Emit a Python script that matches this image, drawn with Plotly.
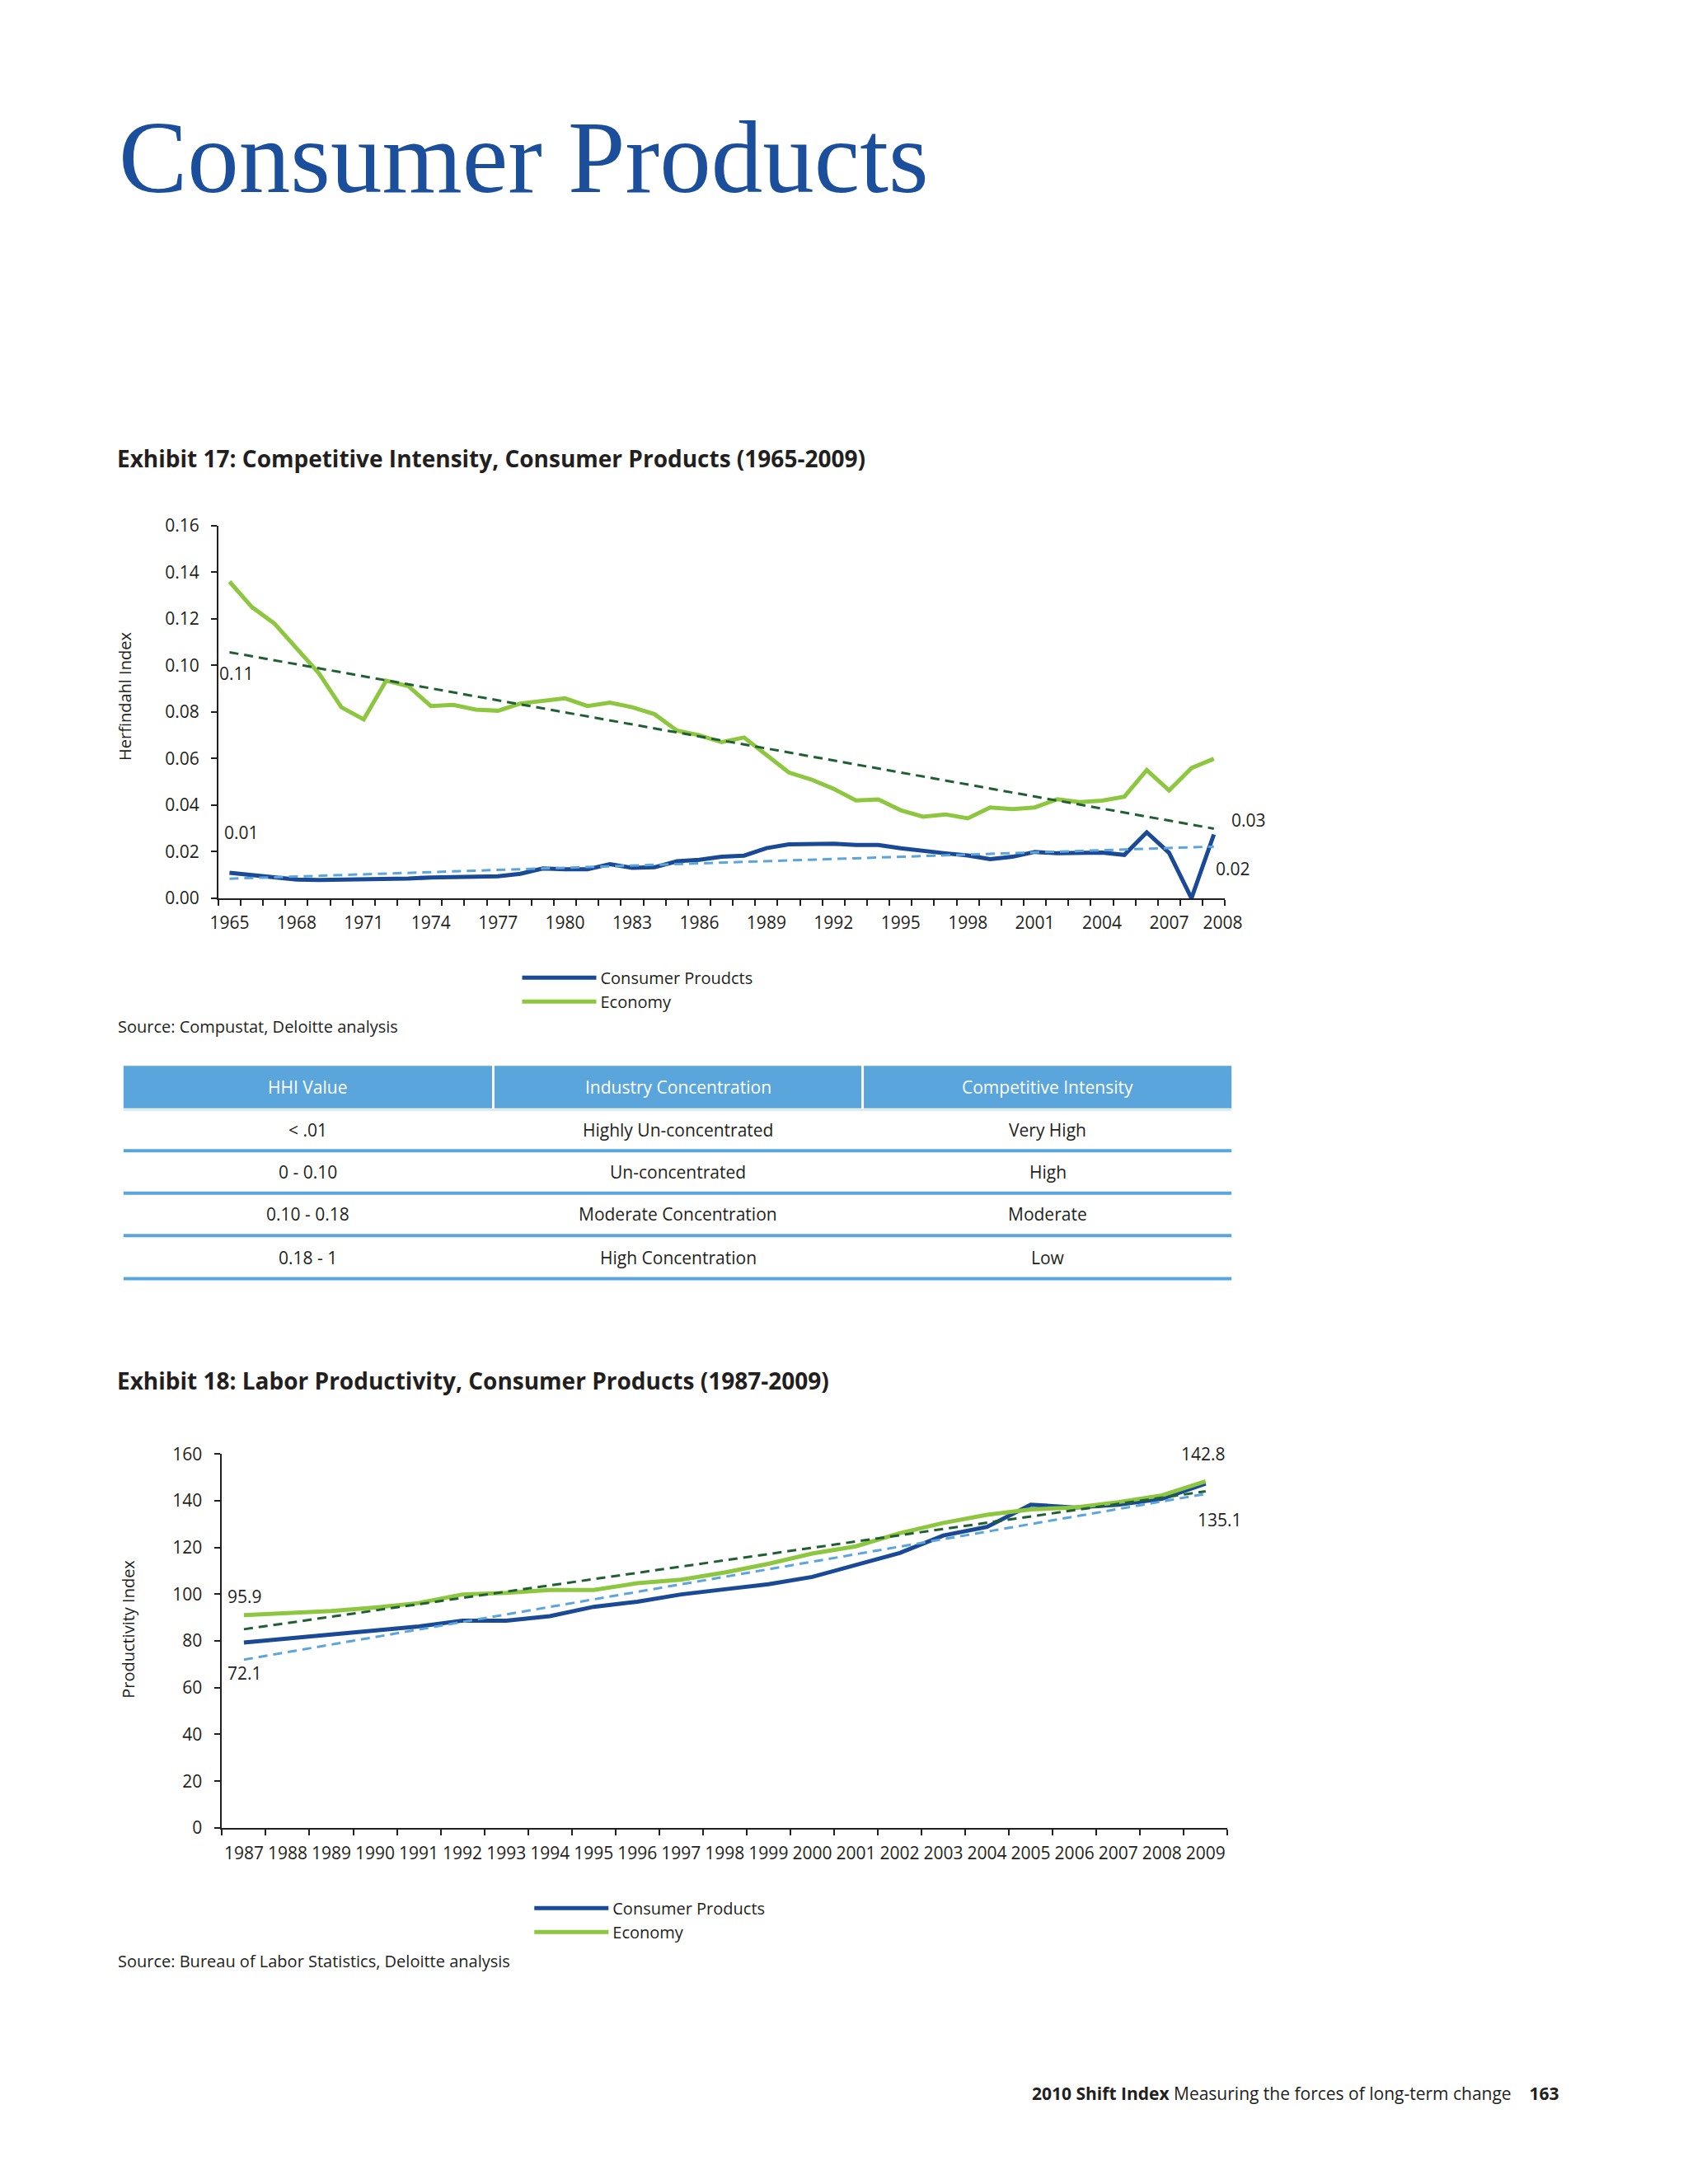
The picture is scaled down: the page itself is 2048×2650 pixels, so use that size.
import plotly.graph_objects as go

W, H = 2048, 2650
def px(x): return x / W
def py(y): return 1 - y / H

FONT = "Open Sans"
TXT = "#231F20"
NAVY = "#1A4A96"
GREEN = "#8DC63F"
DKGREEN = "#1F5F33"
LTBLUE = "#5BA4DC"
HDR = "#5AA5DC"

# ---------------- Exhibit 17 data ----------------
years_hhi = list(range(1965, 2010))
cp_hhi = [0.0109, 0.0100, 0.0091, 0.0080, 0.0078, 0.0079, 0.0081, 0.0080, 0.0085, 0.0089,
          0.0090, 0.0090, 0.0094, 0.0105, 0.0128, 0.0124, 0.0124, 0.0146, 0.0131, 0.0133,
          0.0159, 0.0165, 0.0178, 0.0183, 0.0215, 0.0231, 0.0232, 0.0234, 0.0229, 0.0229,
          0.0215, 0.0203, 0.0193, 0.0184, 0.0168, 0.0178, 0.0199, 0.0193, 0.0195, 0.0196,
          0.0186, 0.0283, 0.0195, 0.0000, 0.0274]
econ_hhi = [0.1359, 0.1250, 0.1180, 0.1070, 0.0965, 0.0820, 0.0768, 0.0934, 0.0910, 0.0825,
            0.0830, 0.0810, 0.0805, 0.0836, 0.0848, 0.0858, 0.0825, 0.0840, 0.0820, 0.0790,
            0.0720, 0.0700, 0.0670, 0.0690, 0.0615, 0.0540, 0.0510, 0.0470, 0.0420, 0.0424,
            0.0378, 0.0350, 0.0360, 0.0343, 0.0390, 0.0383, 0.0390, 0.0425, 0.0413, 0.0419,
            0.0436, 0.0550, 0.0463, 0.0559, 0.0599]
trend_years_hhi = [1965, 2009]
econ_hhi_trend = [0.1056, 0.0299]
cp_hhi_trend = [0.0084, 0.0222]
hhi_tickyears = list(range(1965, 2008, 3))
hhi_ticklabels = [str(y) for y in hhi_tickyears] + ["2008"]

# ---------------- Exhibit 18 data ----------------
years_prod = list(range(1987, 2010))
cp_prod = [79.3, 81.0, 82.5, 84.4, 86.2, 88.7, 88.7, 90.6, 94.6, 96.8, 99.9, 102.1,
           104.3, 107.4, 112.4, 117.6, 125.1, 128.8, 138.3, 137.1, 138.3, 140.8, 147.3]
econ_prod = [91.0, 91.8, 92.8, 94.3, 96.2, 99.9, 100.6, 101.8, 101.8, 104.7, 106.2, 109.3,
             113.0, 117.4, 120.5, 126.1, 130.5, 134.0, 136.3, 137.1, 139.4, 142.3, 148.3]
trend_years_prod = [1987, 2009]
econ_prod_trend = [85.0, 144.0]
cp_prod_trend = [72.0, 142.9]

# ---------------- Table data ----------------
table_header = ["HHI Value", "Industry Concentration", "Competitive Intensity"]
col_hhi = ["< .01", "0 - 0.10", "0.10 - 0.18", "0.18 - 1"]
col_conc = ["Highly Un-concentrated", "Un-concentrated", "Moderate Concentration", "High Concentration"]
col_int = ["Very High", "High", "Moderate", "Low"]

fig = go.Figure()

# Exhibit 17 traces
fig.add_trace(go.Scatter(x=years_hhi, y=cp_hhi, mode="lines", name="Consumer Proudcts",
                         line=dict(color=NAVY, width=5), xaxis="x", yaxis="y", legend="legend"))
fig.add_trace(go.Scatter(x=years_hhi, y=econ_hhi, mode="lines", name="Economy",
                         line=dict(color=GREEN, width=5), xaxis="x", yaxis="y", legend="legend"))
fig.add_trace(go.Scatter(x=trend_years_hhi, y=econ_hhi_trend, mode="lines", showlegend=False,
                         line=dict(color=DKGREEN, width=3, dash="11px,7px"), xaxis="x", yaxis="y"))
fig.add_trace(go.Scatter(x=trend_years_hhi, y=cp_hhi_trend, mode="lines", showlegend=False,
                         line=dict(color=LTBLUE, width=3, dash="11px,7px"), xaxis="x", yaxis="y"))

# Exhibit 18 traces
fig.add_trace(go.Scatter(x=years_prod, y=cp_prod, mode="lines", name="Consumer Products",
                         line=dict(color=NAVY, width=5), xaxis="x2", yaxis="y2", legend="legend2"))
fig.add_trace(go.Scatter(x=years_prod, y=econ_prod, mode="lines", name="Economy",
                         line=dict(color=GREEN, width=5), xaxis="x2", yaxis="y2", legend="legend2"))
fig.add_trace(go.Scatter(x=trend_years_prod, y=econ_prod_trend, mode="lines", showlegend=False,
                         line=dict(color=DKGREEN, width=3, dash="11px,7px"), xaxis="x2", yaxis="y2"))
fig.add_trace(go.Scatter(x=trend_years_prod, y=cp_prod_trend, mode="lines", showlegend=False,
                         line=dict(color=LTBLUE, width=3, dash="11px,7px"), xaxis="x2", yaxis="y2"))

axis_common = dict(showgrid=False, zeroline=False, showline=True, linecolor=TXT, linewidth=2,
                   fixedrange=True)
xfont = dict(family=FONT, size=21, color=TXT)
yfont = dict(family=FONT, size=21, color=TXT)

fig.update_layout(
    width=W, height=H, autosize=False,
    margin=dict(l=0, r=0, t=0, b=0),
    paper_bgcolor="white", plot_bgcolor="rgba(0,0,0,0)",
    font=dict(family=FONT, color=TXT),
    xaxis=dict(domain=[px(258.8), px(1499)], anchor="y", range=[1964.5, 2009.5],
               tickmode="array", tickvals=hhi_tickyears + [2009.4], ticktext=hhi_ticklabels,
               ticks="", ticklabelstandoff=10, tickfont=xfont,
               minor=dict(tickmode="linear", tick0=1964.5, dtick=1, ticks="outside",
                          ticklen=7, tickwidth=2, tickcolor=TXT),
               **axis_common),
    yaxis=dict(domain=[py(1086.4), py(629.3)], anchor="x", range=[0, 0.16],
               tickmode="linear", tick0=0, dtick=0.02, tickformat=".2f",
               ticks="outside", ticklen=7, tickwidth=2, tickcolor=TXT,
               ticklabelstandoff=10, tickfont=yfont,
               **axis_common),
    xaxis2=dict(domain=[px(263.4), px(1502)], anchor="y2", range=[1986.5, 2009.5],
                tickmode="linear", tick0=1987, dtick=1, ticks="", ticklabelstandoff=11,
                tickfont=xfont,
                minor=dict(tickmode="linear", tick0=1986.5, dtick=1, ticks="outside",
                           ticklen=7, tickwidth=2, tickcolor=TXT),
                **axis_common),
    yaxis2=dict(domain=[py(2226.4), py(1767.9)], anchor="x2", range=[0, 160],
                tickmode="linear", tick0=0, dtick=20,
                ticks="outside", ticklen=7, tickwidth=2, tickcolor=TXT,
                ticklabelstandoff=11, tickfont=yfont,
                **axis_common),
    legend=dict(x=px(628), y=py(1164), xanchor="left", yanchor="top", itemwidth=90,
                font=dict(family=FONT, size=20, color=TXT), bgcolor="rgba(0,0,0,0)",
                tracegroupgap=0, itemclick=False, itemdoubleclick=False),
    legend2=dict(x=px(643), y=py(2305), xanchor="left", yanchor="top", itemwidth=90,
                 font=dict(family=FONT, size=20, color=TXT), bgcolor="rgba(0,0,0,0)",
                 tracegroupgap=0, itemclick=False, itemdoubleclick=False),
)

ann = []
def text(x, y, s, size=20, color=TXT, xanchor="left", family=FONT, **kw):
    ann.append(dict(x=px(x), y=py(y), xref="paper", yref="paper", text=s, showarrow=False,
                    xanchor=xanchor, yanchor="middle",
                    font=dict(family=family, size=size, color=color), **kw))

# Page title
text(134, 178, "Consumer Products", size=125, color="#1B4F9B", family="Liberation Serif")
# Exhibit titles
text(132, 547, "<b>Exhibit 17: Competitive Intensity, Consumer Products (1965-2009)</b>", size=28)
text(132, 1678, "<b>Exhibit 18: Labor Productivity, Consumer Products (1987-2009)</b>", size=28)

# Axis titles (rotated)
text(143, 839, "Herfindahl Index", size=20, xanchor="center", textangle=-90)
text(147, 1983, "Productivity Index", size=20, xanchor="center", textangle=-90)

# Value labels, exhibit 17
text(258, 811, "0.11", size=21)
text(264, 1006, "0.01", size=21)
text(1505, 990, "0.03", size=21)
text(1485, 1050, "0.02", size=21)
# Value labels, exhibit 18
text(268, 1943, "95.9", size=21)
text(268, 2037, "72.1", size=21)
text(1443, 1768, "142.8", size=21)
text(1463, 1849, "135.1", size=21)

# Sources
text(133, 1244, "Source: Compustat, Deloitte analysis", size=20)
text(133, 2390, "Source: Bureau of Labor Statistics, Deloitte analysis", size=20)

# Footer
text(1913, 2552, "<b>2010 Shift Index</b> Measuring the forces of long-term change&nbsp;&nbsp;&nbsp;&nbsp;<b>163</b>",
     size=21, xanchor="right")

# Table
shapes = []
col_edges = [(142, 596), (599, 1051), (1054, 1507)]
for (x0, x1) in col_edges:
    shapes.append(dict(type="rect", xref="paper", yref="paper", x0=px(x0), x1=px(x1),
                       y0=py(1344), y1=py(1292), fillcolor=HDR, line=dict(width=0), layer="below"))
shapes.append(dict(type="line", xref="paper", yref="paper", x0=px(142), x1=px(1507),
                   y0=py(1346), y1=py(1346), line=dict(color="#CFE4F5", width=2)))
row_text_y = [1370, 1422, 1474, 1527]
row_line_y = [1396, 1448, 1500, 1553]
for ly in row_line_y:
    shapes.append(dict(type="line", xref="paper", yref="paper", x0=px(142), x1=px(1507),
                       y0=py(ly), y1=py(ly), line=dict(color=HDR, width=4)))
col_centers = [(a + b) / 2 for a, b in col_edges]
for cx, h in zip(col_centers, table_header):
    text(cx, 1318, h, size=21, color="white", xanchor="center")
for col_vals, cx in zip([col_hhi, col_conc, col_int], col_centers):
    for v, ry in zip(col_vals, row_text_y):
        text(cx, ry, v, size=21, xanchor="center")

fig.update_layout(annotations=ann, shapes=shapes)
fig.write_html("out.html", config={"displayModeBar": False, "staticPlot": False},
               post_script="document.body.style.margin='0';document.body.style.padding='0';")
